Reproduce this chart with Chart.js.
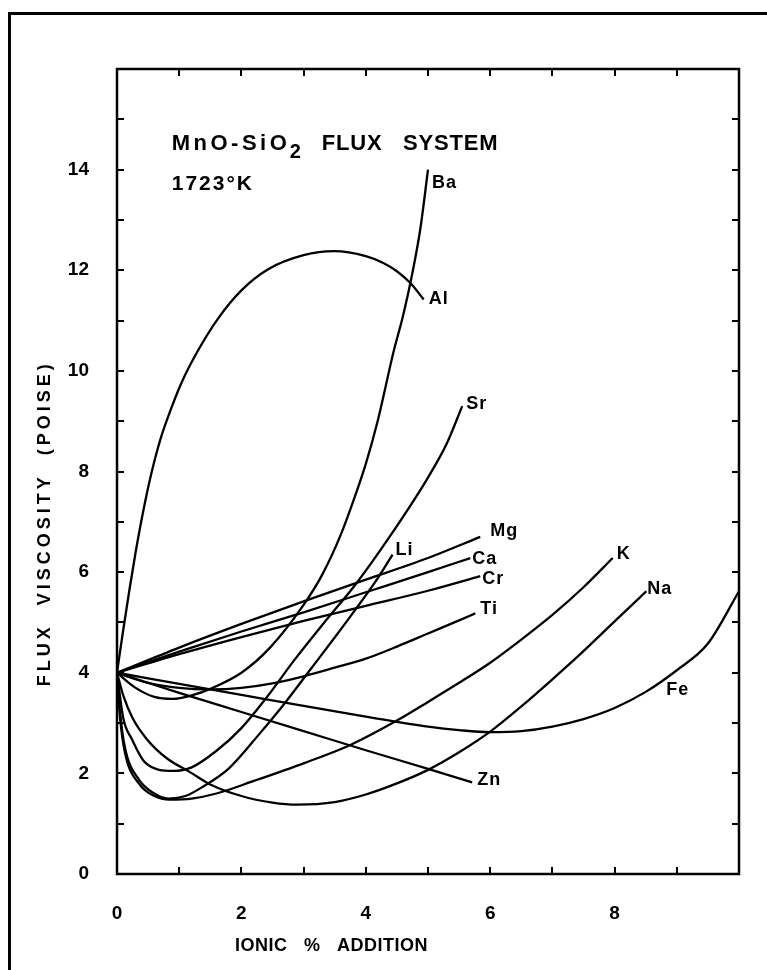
<!DOCTYPE html>
<html><head><meta charset="utf-8">
<script src="https://cdn.jsdelivr.net/npm/chart.js@4.4.0/dist/chart.umd.min.js"></script>
<style>
html,body{margin:0;padding:0;background:#fff;width:767px;height:970px;overflow:hidden}
#wrap{position:relative;width:767px;height:970px}
#frame{position:absolute;left:8px;top:12px;width:800px;height:1000px;border-top:3px solid #000;border-left:3px solid #000;pointer-events:none}
canvas{position:absolute;left:0;top:0}
</style></head><body>
<div id="wrap"><canvas id="c" width="767" height="970"></canvas><div id="frame"></div></div>
<script>
// ---- data (ionic % addition vs. flux viscosity, poise) ----
const xBa = [0, 0.3, 0.6, 0.9, 1.2, 1.5, 2.0, 2.46, 3.0, 3.3, 3.6, 3.81, 4.0, 4.19, 4.45, 4.6, 4.75, 4.88, 5.0];
const yBa = [4, 3.7, 3.52, 3.48, 3.55, 3.68, 4.0, 4.5, 5.35, 5.95, 6.75, 7.45, 8.15, 9.0, 10.4, 11.1, 11.95, 12.85, 14.0];
const xAl = [0, 0.1, 0.2, 0.3, 0.42, 0.55, 0.7, 0.87, 1.05, 1.3, 1.63, 2.0, 2.43, 3.0, 3.49, 4.0, 4.29, 4.5, 4.72, 4.93];
const yAl = [4, 4.85, 5.65, 6.4, 7.2, 7.95, 8.65, 9.25, 9.8, 10.4, 11.05, 11.6, 12.02, 12.3, 12.38, 12.28, 12.14, 11.98, 11.74, 11.42];
const xSr = [0, 0.1, 0.24, 0.45, 0.9, 1.2, 1.6, 2.0, 2.4, 2.85, 3.3, 3.85, 4.37, 5.0, 5.3, 5.55];
const ySr = [4, 3.1, 2.68, 2.22, 2.05, 2.12, 2.45, 2.9, 3.5, 4.25, 4.95, 5.78, 6.68, 7.88, 8.55, 9.3];
const xMg = [0, 1, 2, 3, 4, 5, 5.84];
const yMg = [4, 4.5, 4.97, 5.42, 5.85, 6.28, 6.7];
const xCa = [0, 1, 2, 3, 4, 5, 5.68];
const yCa = [4, 4.42, 4.82, 5.2, 5.6, 6.0, 6.28];
const xCr = [0, 1, 2, 3, 4, 5, 5.84];
const yCr = [4, 4.37, 4.71, 5.03, 5.33, 5.63, 5.92];
const xTi = [0, 0.5, 1, 1.5, 2, 2.5, 3, 3.5, 4, 4.5, 5, 5.5, 5.76];
const yTi = [4, 3.8, 3.7, 3.67, 3.7, 3.79, 3.93, 4.1, 4.28, 4.52, 4.78, 5.04, 5.18];
const xLi = [0, 0.05, 0.13, 0.35, 0.6, 0.83, 1.1, 1.4, 1.8, 2.3, 2.7, 3.1, 3.5, 3.8, 4.16, 4.43];
const yLi = [4, 3.2, 2.5, 1.88, 1.6, 1.5, 1.55, 1.75, 2.1, 2.8, 3.4, 4.05, 4.7, 5.2, 5.82, 6.35];
const xK = [0, 0.05, 0.13, 0.35, 0.6, 0.85, 1.2, 1.6, 2.2, 3.0, 3.76, 4.5, 5.0, 5.5, 6.0, 6.5, 7.0, 7.5, 7.97];
const yK = [4, 3.1, 2.4, 1.8, 1.55, 1.48, 1.5, 1.6, 1.85, 2.2, 2.57, 3.05, 3.42, 3.8, 4.2, 4.66, 5.15, 5.7, 6.28];
const xNa = [0, 0.1, 0.25, 0.48, 0.8, 1.18, 1.5, 2.0, 2.5, 2.9, 3.5, 4.0, 4.5, 5.0, 5.5, 6.0, 6.5, 7.0, 7.5, 8.0, 8.51];
const yNa = [4, 3.55, 3.1, 2.68, 2.3, 2.02, 1.78, 1.55, 1.42, 1.38, 1.43, 1.58, 1.8, 2.07, 2.42, 2.83, 3.33, 3.87, 4.43, 5.02, 5.62];
const xFe = [0, 1, 2, 3, 4, 5, 5.5, 6, 6.5, 7, 7.5, 8, 8.5, 9, 9.5, 10];
const yFe = [4, 3.78, 3.56, 3.34, 3.13, 2.93, 2.86, 2.82, 2.84, 2.93, 3.08, 3.3, 3.62, 4.05, 4.58, 5.62];
const xZn = [0, 1, 2, 3, 4, 5, 5.71];
const yZn = [4, 3.6, 3.22, 2.84, 2.46, 2.09, 1.82];

const seriesNames = ['Ba', 'Al', 'Sr', 'Mg', 'Ca', 'Cr', 'Ti', 'Li', 'K', 'Na', 'Fe', 'Zn'];
const seriesX = [xBa, xAl, xSr, xMg, xCa, xCr, xTi, xLi, xK, xNa, xFe, xZn];
const seriesY = [yBa, yAl, ySr, yMg, yCa, yCr, yTi, yLi, yK, yNa, yFe, yZn];

const xTickLabels = ['0', '2', '4', '6', '8'];
const yTickLabels = ['0', '2', '4', '6', '8', '10', '12', '14'];
const titleParts = ['MnO-SiO', '2', 'FLUX   SYSTEM'];
const tempText = '1723°K';
const xTitle = 'IONIC   %   ADDITION';
const yTitle = 'FLUX  VISCOSITY  (POISE)';

// ---- placement / style (not data) ----
const FONT = '"Liberation Sans", Arial, sans-serif';
const labelOffsets = { Ba:[4,13], Al:[5,0], Sr:[4,-2], Mg:[10,-6], Ca:[2,1], Cr:[2,3], Ti:[5,-4], Li:[3,-4], K:[4,-4], Na:[1,-2], Zn:[5,-2] };
const feLabelAt = [8.83, 3.66];

const datasets = seriesNames.map((n, i) => ({
  label: n,
  data: seriesX[i].map((x, j) => ({ x: x, y: seriesY[i][j] })),
  borderColor: '#000',
  borderWidth: 2.3,
  pointRadius: 0,
  fill: false,
  cubicInterpolationMode: 'monotone'
}));

function txt(ctx, s, x, y, spacing) {
  ctx.letterSpacing = (spacing || 0) + 'px';
  ctx.fillText(s, x, y);
  ctx.letterSpacing = '0px';
}

const decor = {
  id: 'decor',
  afterDatasetsDraw(chart) {
    const { ctx, chartArea: a, scales: { x, y } } = chart;
    ctx.save();
    ctx.strokeStyle = '#000';
    ctx.lineWidth = 2.5;
    ctx.strokeRect(a.left, a.top, a.right - a.left, a.bottom - a.top);
    ctx.lineWidth = 2;
    const T = 7;
    ctx.beginPath();
    x.ticks.forEach(t => {
      const p = Math.round(x.getPixelForValue(t.value));
      ctx.moveTo(p, a.bottom); ctx.lineTo(p, a.bottom - T);
      ctx.moveTo(p, a.top); ctx.lineTo(p, a.top + T);
    });
    y.ticks.forEach(t => {
      const p = Math.round(y.getPixelForValue(t.value));
      ctx.moveTo(a.left, p); ctx.lineTo(a.left + T, p);
      ctx.moveTo(a.right, p); ctx.lineTo(a.right - T, p);
    });
    ctx.stroke();

    ctx.fillStyle = '#000';
    ctx.textBaseline = 'middle';
    ctx.textAlign = 'left';
    // series labels
    ctx.font = 'bold 18px ' + FONT;
    seriesNames.forEach((n, i) => {
      let px, py;
      if (n === 'Fe') {
        px = x.getPixelForValue(feLabelAt[0]); py = y.getPixelForValue(feLabelAt[1]);
      } else {
        const xs = seriesX[i], ys = seriesY[i], k = xs.length - 1;
        px = x.getPixelForValue(xs[k]) + labelOffsets[n][0];
        py = y.getPixelForValue(ys[k]) + labelOffsets[n][1];
      }
      txt(ctx, n, px, py, 1);
    });
    // title block
    const tx = x.getPixelForValue(0.88), ty = y.getPixelForValue(14.52);
    ctx.font = 'bold 22px ' + FONT;
    txt(ctx, titleParts[0], tx, ty, 3.5);
    ctx.font = 'bold 20px ' + FONT;
    txt(ctx, titleParts[1], tx + 118, ty + 9, 0);
    ctx.font = 'bold 22px ' + FONT;
    txt(ctx, titleParts[2], tx + 150, ty, 0.8);
    ctx.font = 'bold 21px ' + FONT;
    txt(ctx, tempText, tx, y.getPixelForValue(13.72), 2);
    // axis titles
    ctx.font = 'bold 18px ' + FONT;
    ctx.textAlign = 'center';
    txt(ctx, xTitle, x.getPixelForValue(3.45), a.bottom + 72, 0.5);
    ctx.save();
    ctx.translate(45, y.getPixelForValue(6.97));
    ctx.rotate(-Math.PI / 2);
    txt(ctx, yTitle, 0, 0, 4);
    ctx.restore();
    ctx.restore();
  }
};

new Chart(document.getElementById('c'), {
  type: 'line',
  data: { datasets },
  plugins: [decor],
  options: {
    responsive: false,
    animation: false,
    layout: { padding: { top: 69, right: 27, left: 0, bottom: 0 } },
    plugins: { legend: { display: false }, tooltip: { enabled: false } },
    scales: {
      x: {
        type: 'linear', min: 0, max: 10,
        grid: { display: false, drawTicks: false },
        border: { display: false },
        ticks: {
          stepSize: 1, autoSkip: false, maxRotation: 0, padding: 28, color: '#000',
          font: { family: FONT, size: 19, weight: 'bold' },
          callback: v => xTickLabels.includes(String(v)) ? String(v) : ''
        },
        afterFit: s => { s.height = 96; }
      },
      y: {
        type: 'linear', min: 0, max: 16,
        grid: { display: false, drawTicks: false },
        border: { display: false },
        ticks: {
          stepSize: 1, autoSkip: false, padding: 28, color: '#000',
          font: { family: FONT, size: 19, weight: 'bold' },
          callback: v => yTickLabels.includes(String(v)) ? String(v) : ''
        },
        afterFit: s => { s.width = 117; }
      }
    }
  }
});
</script></body></html>
